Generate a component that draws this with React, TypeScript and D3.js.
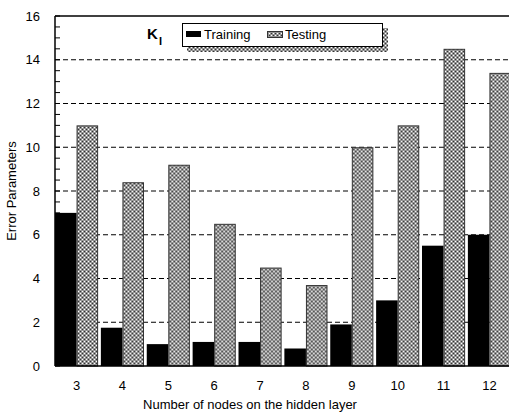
import React from "react";
import * as d3 from "d3";

const categories = ["3", "4", "5", "6", "7", "8", "9", "10", "11", "12"];
const training = [7.0, 1.75, 1.0, 1.1, 1.1, 0.8, 1.9, 3.0, 5.5, 6.0];
const testing = [11.0, 8.4, 9.2, 6.5, 4.5, 3.7, 10.0, 11.0, 14.5, 13.4];
const yTicks = [0, 2, 4, 6, 8, 10, 12, 14, 16];
const seriesNames = ["Training", "Testing"];

export default function App() {
  const W = 509, H = 414;
  const left = 55, right = 511, top = 16, bottom = 366;
  const y = d3.scaleLinear().domain([0, 16]).range([bottom, top]);
  const x = d3.scaleBand<string>().domain(categories).range([left, right]).paddingInner(0.06).paddingOuter(0.0);
  const sub = d3.scaleBand<string>().domain(seriesNames).range([0, x.bandwidth()]).padding(0);
  const minor = d3.range(0, 16.01, 0.5);
  const font = "'Liberation Sans', Arial, sans-serif";
  return (
    <svg width={W} height={H} style={{ position: "absolute", left: 0, top: 0, background: "#fff" }} fontFamily={font}>
      <defs>
        <pattern id="dither" patternUnits="userSpaceOnUse" width={4} height={4}>
          <rect width={4} height={4} fill="#959595" />
          <rect x={1} y={1} width={1} height={1} fill="#fff" />
          <rect x={3} y={3} width={1} height={1} fill="#fff" />
          <rect x={3} y={1} width={1} height={1} fill="#333" />
          <rect x={1} y={3} width={1} height={1} fill="#333" />
        </pattern>
      </defs>
      {yTicks.filter(t => t > 0 && t < 16).map(t => (
        <line key={t} x1={left} x2={W} y1={y(t)} y2={y(t)} stroke="#000" strokeWidth={1} strokeDasharray="5,3" />
      ))}
      {categories.map((c, i) => (
        <g key={c} transform={`translate(${x(c)},0)`}>
          <rect x={sub("Training")} y={y(training[i])} width={sub.bandwidth()} height={bottom - y(training[i])} fill="#000" />
          <rect x={(sub("Testing") as number) + 0.5} y={y(testing[i]) + 0.5} width={sub.bandwidth() - 1} height={bottom - y(testing[i]) - 0.5} fill="url(#dither)" stroke="#333" strokeWidth={1} />
        </g>
      ))}
      <line x1={left} x2={W} y1={top} y2={top} stroke="#000" strokeWidth={1.5} />
      <line x1={left} x2={W} y1={bottom} y2={bottom} stroke="#000" strokeWidth={1.5} />
      <line x1={left} x2={left} y1={top} y2={bottom} stroke="#000" strokeWidth={1.5} />
      {minor.map(t => (
        <line key={"m" + t} x1={left} x2={left + 5} y1={y(t)} y2={y(t)} stroke="#000" strokeWidth={1} />
      ))}
      {yTicks.map(t => (
        <text key={"yt" + t} x={40} y={y(t)} dy="0.35em" textAnchor="end" fontSize={13}>{t}</text>
      ))}
      {categories.map(c => (
        <text key={"xt" + c} x={(x(c) as number) + x.bandwidth() / 2} y={390} textAnchor="middle" fontSize={13}>{c}</text>
      ))}
      <text x={250} y={409} textAnchor="middle" fontSize={13}>Number of nodes on the hidden layer</text>
      <text transform={`translate(16,191) rotate(-90)`} textAnchor="middle" fontSize={13}>Error Parameters</text>
      <text x={147} y={39} fontSize={15} fontWeight="bold">K</text>
      <text x={159} y={45} fontSize={11} fontWeight="bold">I</text>
      <rect x={187} y={28} width={201} height={24} fill="url(#dither)" />
      <rect x={182.5} y={23.5} width={200} height={23} fill="#fff" stroke="#000" strokeWidth={1} />
      <rect x={186} y={31} width={15} height={6} fill="#000" />
      <text x={204} y={39} fontSize={13}>{seriesNames[0]}</text>
      <rect x={267.5} y={31.5} width={15} height={6} fill="url(#dither)" stroke="#333" strokeWidth={1} />
      <text x={285} y={39} fontSize={13}>{seriesNames[1]}</text>
    </svg>
  );
}
